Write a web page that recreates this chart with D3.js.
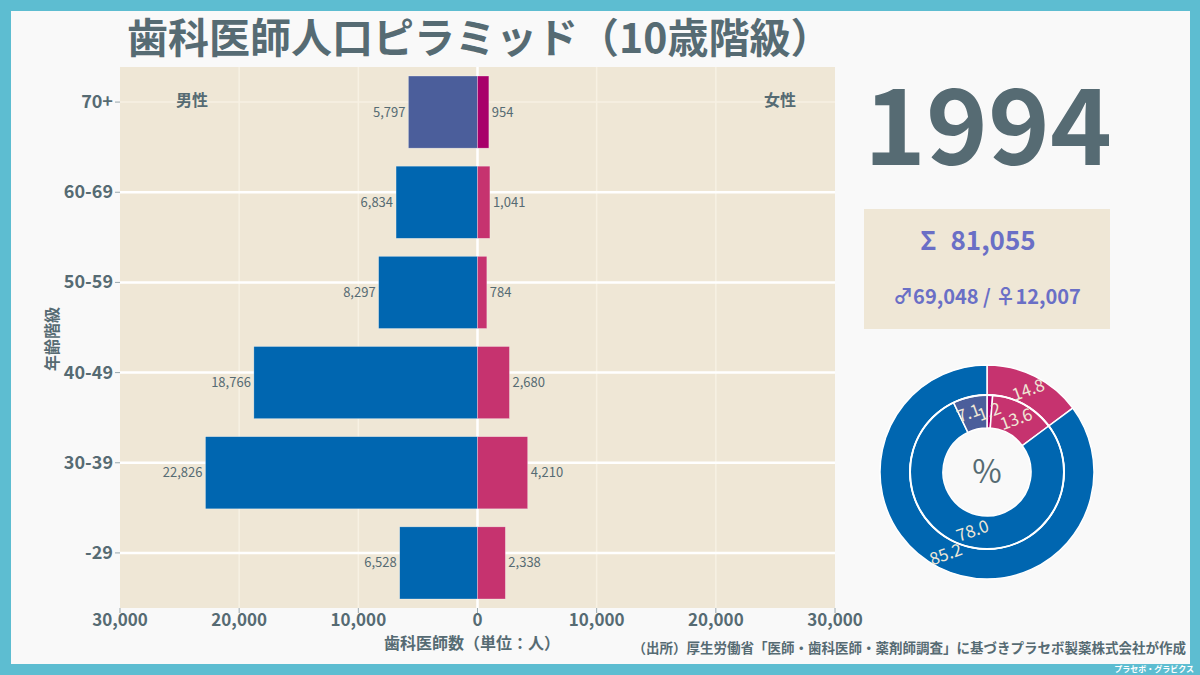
<!DOCTYPE html>
<html><head><meta charset="utf-8">
<script src="https://cdn.jsdelivr.net/npm/d3@7"></script>
<style>
html,body{margin:0;padding:0;background:#5dbdd1;}
svg{display:block;font-family:"Noto Sans CJK JP","Noto Sans",sans-serif;}
</style></head><body>
<svg id="c" width="1200" height="675"></svg>
<script>
const ages = ["-29","30-39","40-49","50-59","60-69","70+"];
const male = [6528,22826,18766,8297,6834,5797];
const female = [2338,4210,2680,784,1041,954];
const xTicks = [-30000,-20000,-10000,0,10000,20000,30000];
const year = "1994";
const donutLabelsOuter = ["14.8","85.2"];
const donutLabelsInner = ["1.2","13.6","78.0","7.1"];

const txt = "#566b73";
const cMale = "#0066b0", cMale70 = "#4b5e9b", cFem = "#c6336f", cFem70 = "#a8006a";
const svg = d3.select("#c");

// background frame
svg.append("rect").attr("x",0).attr("y",0).attr("width",1200).attr("height",675).attr("fill","#5dbdd1");
svg.append("rect").attr("x",11).attr("y",11).attr("width",1179).attr("height",653).attr("fill","#f9f9f9");

// title
svg.append("text").attr("x",127).attr("y",53).attr("font-size",41).attr("font-weight","bold")
  .attr("fill",txt).text("歯科医師人口ピラミッド（10歳階級）");

// plot
const L=120,R=835,T=67,B=608;
const x = d3.scaleLinear().domain([-30000,30000]).range([L,R]);
const y = d3.scaleBand().domain(ages).range([B,T]).paddingInner(0.2).paddingOuter(0.1);
const tickOff = -10;
svg.append("rect").attr("x",L).attr("y",T).attr("width",R-L).attr("height",B-T).attr("fill","#efe7d6");

// vertical grid
svg.selectAll(".vg").data(xTicks.filter(d=>d!==0 && Math.abs(d)!==30000)).enter().append("line")
  .attr("x1",d=>x(d)).attr("x2",d=>x(d)).attr("y1",T).attr("y2",B)
  .attr("stroke","#f7f1e3").attr("stroke-width",1.5);
// horizontal grid
svg.selectAll(".hg").data(ages).enter().append("line")
  .attr("x1",L).attr("x2",R)
  .attr("y1",d=>y(d)+y.bandwidth()/2+tickOff).attr("y2",d=>y(d)+y.bandwidth()/2+tickOff)
  .attr("stroke",d=>d==="70+"?"#f7f1e3":"#ffffff").attr("stroke-width",d=>d==="70+"?1.5:2.5);
// zero line
svg.append("line").attr("x1",x(0)).attr("x2",x(0)).attr("y1",T).attr("y2",B).attr("stroke","#ffffff").attr("stroke-width",2.5);

// bars
const rows = ages.map((a,i)=>({age:a,m:male[i],f:female[i]}));
svg.selectAll(".bm").data(rows).enter().append("rect")
  .attr("x",d=>x(-d.m)).attr("width",d=>x(0)-x(-d.m))
  .attr("y",d=>y(d.age)).attr("height",y.bandwidth())
  .attr("fill",d=>d.age==="70+"?cMale70:cMale).attr("stroke","rgba(255,255,255,0.45)").attr("stroke-width",0.6);
svg.selectAll(".bf").data(rows).enter().append("rect")
  .attr("x",x(0)).attr("width",d=>x(d.f)-x(0))
  .attr("y",d=>y(d.age)).attr("height",y.bandwidth())
  .attr("fill",d=>d.age==="70+"?cFem70:cFem).attr("stroke","rgba(255,255,255,0.45)").attr("stroke-width",0.6);
const fmt = d3.format(",");
svg.selectAll(".lm").data(rows).enter().append("text")
  .attr("x",d=>x(-d.m)-3).attr("y",d=>y(d.age)+y.bandwidth()/2+4.5)
  .attr("text-anchor","end").attr("font-size",13).attr("fill",txt).text(d=>fmt(d.m));
svg.selectAll(".lf").data(rows).enter().append("text")
  .attr("x",d=>x(d.f)+3).attr("y",d=>y(d.age)+y.bandwidth()/2+4.5)
  .attr("text-anchor","start").attr("font-size",13).attr("fill",txt).text(d=>fmt(d.f));

// y axis
ages.forEach(a=>{
  const yy = y(a)+y.bandwidth()/2+tickOff;
  svg.append("line").attr("x1",L-5).attr("x2",L).attr("y1",yy).attr("y2",yy).attr("stroke","#9aa8ad").attr("stroke-width",1);
  svg.append("text").attr("x",L-7).attr("y",yy+6).attr("text-anchor","end").attr("font-size",18)
    .attr("font-weight","bold").attr("fill",txt).text(a);
});
svg.append("text").attr("transform","translate(58,339) rotate(-90)").attr("text-anchor","middle")
  .attr("font-size",16).attr("font-weight","bold").attr("fill",txt).text("年齢階級");

// x axis
xTicks.forEach(t=>{
  svg.append("line").attr("x1",x(t)).attr("x2",x(t)).attr("y1",B).attr("y2",B+5).attr("stroke","#9aa8ad");
  svg.append("text").attr("x",x(t)).attr("y",B+18).attr("text-anchor","middle").attr("font-size",17)
    .attr("font-weight","bold").attr("fill",txt).text(fmt(Math.abs(t)));
});
svg.append("text").attr("x",472).attr("y",649).attr("text-anchor","middle").attr("font-size",16)
  .attr("font-weight","bold").attr("fill",txt).text("歯科医師数（単位：人）");

svg.append("text").attr("x",192).attr("y",106).attr("text-anchor","middle").attr("font-size",16)
  .attr("font-weight","bold").attr("fill",txt).text("男性");
svg.append("text").attr("x",780).attr("y",106).attr("text-anchor","middle").attr("font-size",16)
  .attr("font-weight","bold").attr("fill",txt).text("女性");

// year
svg.append("text").attr("x",988).attr("y",165).attr("text-anchor","middle").attr("font-size",105)
  .attr("font-weight","bold").attr("fill",txt).text(year);

// stats box
const mSum = d3.sum(male), fSum = d3.sum(female), tot = mSum+fSum;
svg.append("rect").attr("x",864).attr("y",209).attr("width",246).attr("height",120).attr("fill","#efe7d6");
const st = svg.append("text").attr("x",978).attr("y",250).attr("text-anchor","middle").attr("font-size",26)
  .attr("font-weight","bold").attr("fill","#6a6fc6");
st.append("tspan").text("Σ");
st.append("tspan").attr("dx",14).text(fmt(tot));
svg.append("text").attr("x",987).attr("y",304).attr("text-anchor","middle").attr("font-size",20)
  .attr("font-weight","bold").attr("fill","#6a6fc6").text("♂" + fmt(mSum) + " / ♀" + fmt(fSum));

// donut
const cx=987, cy=472;
const g = svg.append("g").attr("transform",`translate(${cx},${cy})`);
const outer = [{v:fSum,c:cFem,l:donutLabelsOuter[0]},{v:mSum,c:cMale,l:donutLabelsOuter[1]}];
const m70 = male[5], f70 = female[5];
const inner = [
  {v:f70,c:cFem70,l:donutLabelsInner[0]},
  {v:fSum-f70,c:cFem,l:donutLabelsInner[1]},
  {v:mSum-m70,c:cMale,l:donutLabelsInner[2]},
  {v:m70,c:cMale70,l:donutLabelsInner[3]}];
const pie = d3.pie().sort(null).value(d=>d.v);
const arcO = d3.arc().innerRadius(77).outerRadius(107);
const arcI = d3.arc().innerRadius(44).outerRadius(77);
const po = pie(outer), pi = pie(inner);
g.selectAll(".ao").data(po).enter().append("path").attr("d",arcO).attr("fill",d=>d.data.c)
  .attr("stroke","#ffffff").attr("stroke-width",1.5);
g.selectAll(".ai").data(pi).enter().append("path").attr("d",arcI).attr("fill",d=>d.data.c)
  .attr("stroke","#ffffff").attr("stroke-width",1.5);
g.append("circle").attr("r",77).attr("fill","none").attr("stroke","#ffffff").attr("stroke-width",2);
const lab = (arr, r, dx) => arr.forEach(d=>{
  const a = (d.startAngle+d.endAngle)/2;
  const px = Math.sin(a)*r + (dx[d.data.l]||0), py = -Math.cos(a)*r;
  g.append("text").attr("transform",`translate(${px},${py}) rotate(-20)`).attr("text-anchor","middle")
    .attr("dy","0.35em").attr("font-size",17).attr("fill","#efe7d6").text(d.data.l);
});
lab(po, 92, {});
lab(pi, 60.5, {"7.1":-5});
g.append("text").attr("text-anchor","middle").attr("dy","0.35em").attr("font-size",32).attr("fill",txt).text("%");

// source
svg.append("text").attr("x",1186).attr("y",653).attr("text-anchor","end").attr("font-size",13.5)
  .attr("font-weight","bold").attr("fill",txt).text("（出所）厚生労働省「医師・歯科医師・薬剤師調査」に基づきプラセボ製薬株式会社が作成");
svg.append("text").attr("x",1194).attr("y",672).attr("text-anchor","end").attr("font-size",8)
  .attr("font-weight","bold").attr("fill","#ffffff").text("プラセボ・グラビクス");
</script></body></html>
